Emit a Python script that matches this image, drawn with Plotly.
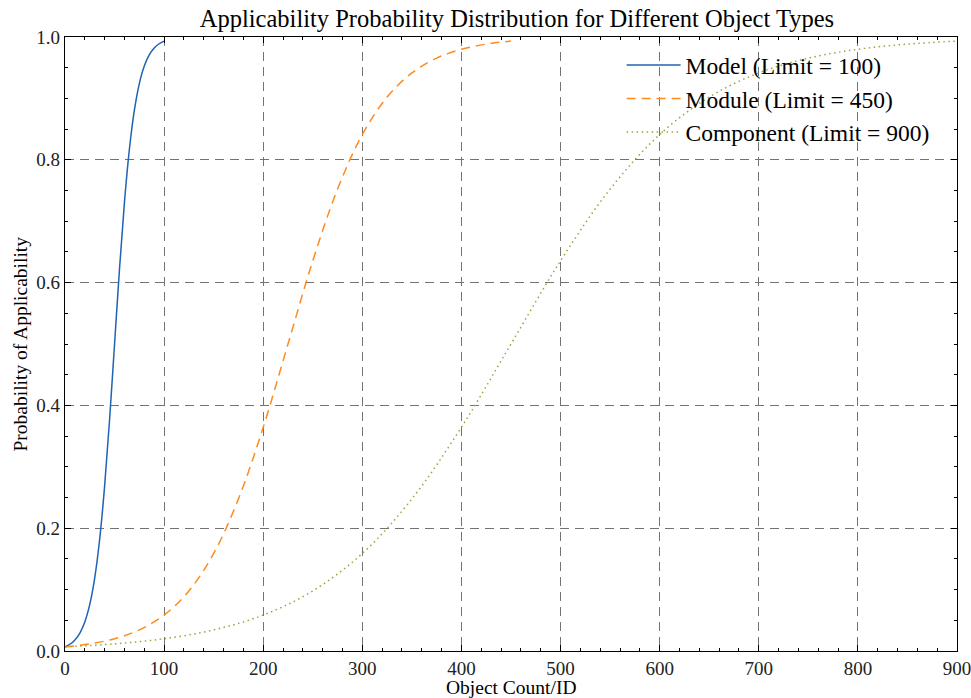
import plotly.graph_objects as go

# ---- data ----
model_x = [0, 5, 10, 15, 20, 25, 30, 35, 40, 45, 50, 55, 60, 65, 70, 75, 80, 85, 90, 95, 100]
model_y = [0.0067, 0.0110, 0.0180, 0.0293, 0.0474, 0.0759, 0.1192, 0.1824, 0.2689, 0.3775,
           0.5000, 0.6225, 0.7311, 0.8176, 0.8808, 0.9241, 0.9526, 0.9707, 0.9820, 0.9890, 0.9933]

module_x = [0, 25, 50, 75, 100, 125, 150, 175, 200, 225, 250, 275, 300, 325, 350, 375, 400, 425, 450]
module_y = [0.0067, 0.0116, 0.0200, 0.0344, 0.0585, 0.0978, 0.1589, 0.2477, 0.3645, 0.5000,
            0.6355, 0.7523, 0.8411, 0.9022, 0.9415, 0.9656, 0.9800, 0.9884, 0.9933]

component_x = [0, 50, 100, 150, 200, 250, 300, 350, 400, 450, 500, 550, 600, 650, 700, 750, 800, 850, 900]
component_y = [0.0067, 0.0116, 0.0200, 0.0344, 0.0585, 0.0978, 0.1589, 0.2477, 0.3645, 0.5000,
               0.6355, 0.7523, 0.8411, 0.9022, 0.9415, 0.9656, 0.9800, 0.9884, 0.9933]

series_names = ["Model (Limit = 100)", "Module (Limit = 450)", "Component (Limit = 900)"]
x_ticks = [0, 100, 200, 300, 400, 500, 600, 700, 800, 900]
y_ticks = [0.0, 0.2, 0.4, 0.6, 0.8, 1.0]

title_text = "Applicability Probability Distribution for Different Object Types"
x_label = "Object Count/ID"
y_label = "Probability of Applicability"

FONT = "Liberation Serif"

fig = go.Figure()
fig.add_trace(go.Scatter(x=model_x, y=model_y, mode="lines", name=series_names[0],
                         line=dict(color="#1f63b4", width=1.5, shape="spline")))
fig.add_trace(go.Scatter(x=module_x, y=module_y, mode="lines", name=series_names[1],
                         line=dict(color="#ff8a1e", width=1.5, dash="9px,6px", shape="spline")))
fig.add_trace(go.Scatter(x=component_x, y=component_y, mode="lines", name=series_names[2],
                         line=dict(color="#9ea43a", width=1.5, dash="1.5px,3.5px", shape="spline")))

axis_common = dict(
    showline=True, linecolor="black", linewidth=1.2, mirror="allticks",
    ticks="inside", ticklen=6, tickwidth=1, tickcolor="black",
    showgrid=True, gridcolor="#737373", gridwidth=1, griddash="9px,6px",
    zeroline=False, automargin=False, ticklabeloverflow="allow",
    tickfont=dict(family=FONT, size=19, color="#222222"),
)

fig.update_xaxes(range=[0, 900], tickvals=x_ticks, ticktext=[str(v) for v in x_ticks],
                 minor=dict(ticks="inside", ticklen=3, tickcolor="black", dtick=20, showgrid=False),
                 **axis_common)
fig.update_yaxes(range=[0, 1], tickvals=y_ticks, ticktext=[f"{v:.1f}" for v in y_ticks],
                 minor=dict(ticks="inside", ticklen=3, tickcolor="black", dtick=0.05, showgrid=False),
                 **axis_common)

fig.update_layout(
    width=971, height=698,
    margin=dict(l=65, r=14, t=37, b=47),
    plot_bgcolor="white", paper_bgcolor="white",
    font=dict(family=FONT, color="black"),
    title=dict(text=title_text, x=0.5324, xanchor="center", y=0.974, yanchor="middle",
               font=dict(family=FONT, size=24.5, color="black")),
    legend=dict(x=0.624, y=0.99, xanchor="left", yanchor="top", bgcolor="rgba(0,0,0,0)",
                borderwidth=0, font=dict(family=FONT, size=23.5, color="black"),
                itemwidth=54, tracegroupgap=2),
    showlegend=True,
)

fig.add_annotation(text=x_label, xref="paper", yref="paper", x=0.5, y=-0.060,
                   xanchor="center", yanchor="middle", showarrow=False,
                   font=dict(family=FONT, size=19.5, color="black"))
fig.add_annotation(text=y_label, xref="paper", yref="paper", x=-0.051, y=0.5,
                   xanchor="center", yanchor="middle", showarrow=False, textangle=-90,
                   font=dict(family=FONT, size=19.5, color="black"))

fig.write_html("out.html")
